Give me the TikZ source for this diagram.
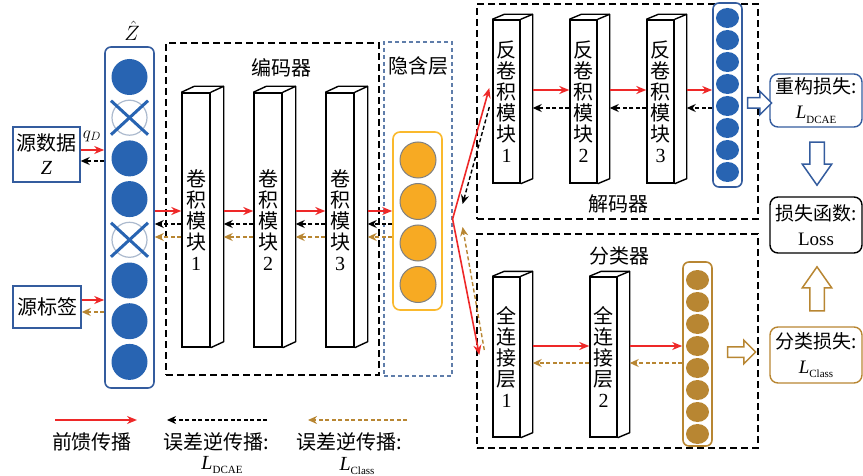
\documentclass[tikz,border=0pt]{standalone}
\usepackage{fontspec}
\setmainfont{Liberation Serif}
\newfontfamily\cjk{Noto Sans CJK SC}
\usetikzlibrary{calc, positioning}
\usetikzlibrary{arrows.meta}
\usetikzlibrary{shapes.arrows}

\definecolor{zblue}{RGB}{40,100,178}
\definecolor{colblue}{RGB}{52,92,158}
\definecolor{ringgray}{RGB}{172,186,206}
\definecolor{hidorange}{RGB}{247,170,35}
\definecolor{hidbox}{RGB}{250,185,45}
\definecolor{clsgold}{RGB}{184,134,50}
\definecolor{fwdred}{RGB}{238,40,40}
\definecolor{hidblue}{RGB}{95,125,170}

\newcommand{\Lsub}[1]{{\rmfamily\itshape L}\raisebox{-0.45ex}{\rmfamily\fontsize{11}{11}\selectfont #1}}

\begin{document}
\begin{tikzpicture}[x=1pt, y=-1pt,
  font=\fontsize{20}{21}\selectfont\cjk,
  fwd/.style={draw=fwdred, line width=1.6pt, -{Stealth[length=10pt,width=8pt]}},
  bpdcae/.style={draw=black, line width=1.4pt, dash pattern=on 4pt off 2.5pt, -{Stealth[length=9pt,width=8pt]}},
  bpcls/.style={draw=clsgold, line width=1.4pt, dash pattern=on 4pt off 2.5pt, -{Stealth[length=9pt,width=8pt]}},
  frame/.style={draw, line width=1.6pt, dash pattern=on 7pt off 4pt, inner sep=0pt},
  col/.style={draw, rounded corners=6pt, line width=1.6pt, inner sep=0pt, fill=white},
  blockface/.style={draw, line width=1.4pt, fill=white, inner sep=0pt, align=center},
  blockedge/.style={line width=1.4pt, line join=round},
  srcbox/.style={draw=colblue, line width=1.4pt, inner sep=0pt, align=center, font=\fontsize{20}{24}\selectfont\cjk},
  lossbox/.style={draw, rounded corners=8pt, line width=1.4pt, minimum width=92pt, inner sep=1pt, align=center, font=\fontsize{19}{25}\selectfont\cjk},
  hollow/.style={single arrow, draw, fill=white, line width=1.5pt, single arrow head indent=0pt}
]
\useasboundingbox (0,0) rectangle (863,476);

% frames
\node[frame, minimum width=213pt, minimum height=332pt] (enc) at (272.5,209) {};
\node[frame, draw=hidblue, line width=1.2pt, dash pattern=on 4pt off 3pt, minimum width=68pt, minimum height=334pt] (hid) at (418,209) {};
\node[frame, minimum width=281pt, minimum height=215pt] (dec) at (617.5,111.5) {};
\node[frame, minimum width=281pt, minimum height=214pt] (cls) at (617.5,341) {};
\node (enclab) at (281,68) {编码器};
\node (hidlab) at (418,66) {隐含层};
\node (declab) at (618,204) {解码器};
\node (clslab) at (619,256) {分类器};

% input column
\node[col, draw=colblue, minimum width=49pt, minimum height=341pt] (zcol) at (129.5,217.5) {};
\node[inner sep=0pt, font=\fontsize{21}{21}\selectfont] (zhat) at (132,31) {$\hat{Z}$};
\foreach \cy in {77,158.4,199.1,280.5,321.2,361.9}
  \fill[zblue] (129.5,\cy) circle (18);
\foreach \cy in {117.7,239.8}{
  \draw[ringgray, line width=1.2pt] (129.5,\cy) circle (17.5);
  \draw[zblue, line width=3pt] (111,\cy-17) -- (148,\cy+17);
  \draw[zblue, line width=3pt] (111,\cy+17) -- (148,\cy-17);
}

% source boxes
\node[srcbox, minimum width=67pt, minimum height=55pt] (src) at (46.5,154.5) {源数据\\{\rmfamily\itshape Z}};
\node[srcbox, minimum width=68pt, minimum height=42pt] (lbl) at (47,307) {源标签};
\draw[fwd] (src.east |- 0,150) -- (zcol.west |- 0,150);
\draw[bpdcae] (zcol.west |- 0,161) -- (src.east |- 0,161);
\node[font=\fontsize{18}{18}\selectfont] (qd) at (92,136) {$q_D$};
\draw[fwd] (lbl.east |- 0,300) -- (zcol.west |- 0,300);
\draw[bpcls] (zcol.west |- 0,312) -- (lbl.east |- 0,312);

% encoder blocks
\foreach \i/\x in {1/182,2/254,3/326}{
  \node[blockface, minimum width=28pt, minimum height=254pt] (enc\i) at (\x+14,220) {卷\\积\\模\\块\\{\rmfamily\i}};
  \coordinate (enc\i-r) at ($(enc\i.east)+(13,0)$);
  \draw[blockedge] (enc\i.north west) -- ++(13,-6) -- ($(enc\i.north east)+(13,-6)$) -- ($(enc\i.south east)+(13,-6)$) -- (enc\i.south east);
  \draw[blockedge] (enc\i.north east) -- ++(13,-6);
}

% latent layer
\node[col, draw=hidbox, rounded corners=7pt, minimum width=49pt, minimum height=178pt] (ybox) at (417.5,221) {};
\foreach \cy in {160,201.5,243,284.5}
  \draw[fill=hidorange, draw=gray, line width=1pt] (418,\cy) circle (18);

% encoder connectors
\draw[fwd] (zcol.east |- 0,211) -- (enc1.west |- 0,211);
\draw[fwd] (enc1-r |- 0,211) -- (enc2.west |- 0,211);
\draw[fwd] (enc2-r |- 0,211) -- (enc3.west |- 0,211);
\draw[fwd] (enc3-r |- 0,211) -- (ybox.west |- 0,211);
\draw[bpdcae] (enc1.west |- 0,224) -- (zcol.east |- 0,224);
\draw[bpdcae] (enc2.west |- 0,224) -- (enc1-r |- 0,224);
\draw[bpdcae] (enc3.west |- 0,224) -- (enc2-r |- 0,224);
\draw[bpdcae] (ybox.west |- 0,224) -- (enc3-r |- 0,224);
\draw[bpcls] (enc1.west |- 0,237) -- (zcol.east |- 0,237);
\draw[bpcls] (enc2.west |- 0,237) -- (enc1-r |- 0,237);
\draw[bpcls] (enc3.west |- 0,237) -- (enc2-r |- 0,237);
\draw[bpcls] (ybox.west |- 0,237) -- (enc3-r |- 0,237);

% decoder blocks
\foreach \i/\x in {1/493,2/570,3/647}{
  \node[blockface, minimum width=27pt, minimum height=163pt] (dec\i) at (\x+13.5,101.5) {反\\卷\\积\\模\\块\\{\rmfamily\i}};
  \coordinate (dec\i-r) at ($(dec\i.east)+(12,0)$);
  \draw[blockedge] (dec\i.north west) -- ++(12,-5) -- ($(dec\i.north east)+(12,-5)$) -- ($(dec\i.south east)+(12,-5)$) -- (dec\i.south east);
  \draw[blockedge] (dec\i.north east) -- ++(12,-5);
}
\node[col, draw=colblue, minimum width=29pt, minimum height=184pt] (dcol) at (727.5,95) {};
\foreach \k in {0,...,7}
  \fill[zblue] (727.5,18+22*\k) ellipse (11.5 and 10);
\draw[fwd] (dec1-r |- 0,90) -- (dec2.west |- 0,90);
\draw[fwd] (dec2-r |- 0,90) -- (dec3.west |- 0,90);
\draw[fwd] (dec3-r |- 0,90) -- (dcol.west |- 0,90);
\draw[bpdcae] (dcol.west |- 0,108) -- (dec3-r |- 0,108);
\draw[bpdcae] (dec3.west |- 0,108) -- (dec2-r |- 0,108);
\draw[bpdcae] (dec2.west |- 0,108) -- (dec1-r |- 0,108);

% classifier blocks
\foreach \i/\x in {1/493,2/590}{
  \node[blockface, minimum width=27pt, minimum height=160pt] (cls\i) at (\x+13.5,357) {全\\连\\接\\层\\{\rmfamily\i}};
  \coordinate (cls\i-r) at ($(cls\i.east)+(12,0)$);
  \draw[blockedge] (cls\i.north west) -- ++(12,-5) -- ($(cls\i.north east)+(12,-5)$) -- ($(cls\i.south east)+(12,-5)$) -- (cls\i.south east);
  \draw[blockedge] (cls\i.north east) -- ++(12,-5);
}
\node[col, draw=clsgold, minimum width=29pt, minimum height=184pt] (gcol) at (697.5,354) {};
\foreach \k in {0,...,7}
  \fill[clsgold] (697.5,280+22*\k) ellipse (11.5 and 10);
\draw[fwd] (cls1-r |- 0,346) -- (cls2.west |- 0,346);
\draw[fwd] (cls2-r |- 0,346) -- (gcol.west |- 0,346);
\draw[bpcls] (gcol.west |- 0,363) -- (cls2-r |- 0,363);
\draw[bpcls] (cls2.west |- 0,363) -- (cls1-r |- 0,363);

% split from latent layer
\coordinate (split) at (hid.east |- 0,219);
\draw[fwd] (split) -- ($(dec1.west |- 0,88)+(-3,0)$);
\draw[fwd] (split) -- ($(cls1.west |- 0,355)+(-13,0)$);
\draw[bpdcae] ($(dec1.west |- 0,107)+(-3,0)$) -- ($(split)+(10,-15)$);
\draw[bpcls] ($(cls1.west |- 0,350)+(-8,0)$) -- ($(split)+(10,8)$);

% losses
\node[lossbox, draw=colblue, minimum height=53pt] (rec) at (816,100.5) {重构损失:\\\Lsub{DCAE}};
\node[lossbox, minimum height=56pt] (loss) at (816,225) {损失函数:\\{\rmfamily Loss}};
\node[lossbox, draw=clsgold, minimum height=56pt] (clsl) at (816,355) {分类损失:\\\Lsub{Class}};
\node[hollow, draw=colblue, minimum height=24pt, inner sep=4.5pt, single arrow head extend=6.5pt] (a1) at (757,103) {};
\node[hollow, draw=clsgold, minimum height=28pt, inner sep=4.5pt, single arrow head extend=6.5pt] (a2) at (739,352) {};
\node[hollow, draw=colblue, minimum height=43pt, inner sep=6.5pt, single arrow head extend=7.5pt, single arrow tip angle=70, shape border rotate=270] (a3) at (817,158.5) {};
\node[hollow, draw=clsgold, minimum height=44pt, inner sep=6.5pt, single arrow head extend=7.5pt, single arrow tip angle=70, shape border rotate=90] (a4) at (817,294) {};

% legend
\coordinate (lg1a) at (55,420);
\coordinate (lg1b) at (137,420);
\coordinate (lg2a) at (267,420);
\coordinate (lg2b) at (167,420);
\coordinate (lg3a) at (407,420);
\coordinate (lg3b) at (308,420);
\draw[fwd] (lg1a) -- (lg1b);
\draw[bpdcae] (lg2a) -- (lg2b);
\draw[bpcls] (lg3a) -- (lg3b);
\node (lgt1) at (92,442) {前馈传播};
\node (lgt2) at (216,442) {误差逆传播:};
\node (lgl2) at (222,465) {\Lsub{DCAE}};
\node (lgt3) at (349,442) {误差逆传播:};
\node (lgl3) at (357,466) {\Lsub{Class}};
\end{tikzpicture}
\end{document}
